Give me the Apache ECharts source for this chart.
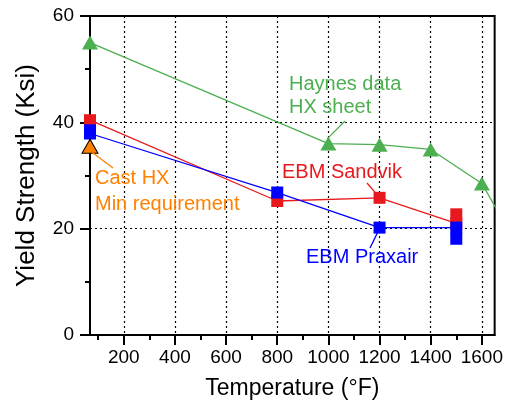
<!DOCTYPE html>
<html><head><meta charset="utf-8">
<script src="https://cdn.jsdelivr.net/npm/echarts@6/dist/echarts.min.js"></script>
<style>html,body{margin:0;padding:0;background:#fff}#c{width:506px;height:406px}</style>
</head><body><div id="c"></div>
<script>
// ---- data ----
const xMajorTicks = [200, 400, 600, 800, 1000, 1200, 1400, 1600];
const xMinorTicks = [100, 300, 500, 700, 900, 1100, 1300, 1500];
const haynesX = [68, 1000, 1200, 1400, 1600, 1700];
const haynesY = [55.0, 36.0, 35.8, 34.9, 28.5, 20.1];
const sandvikX = [68, 800, 1200, 1500, 1500];
const sandvikY = [40.4, 25.2, 25.8, 21.0, 22.7];
const praxairX = [68, 68, 800, 1200, 1500, 1500];
const praxairY = [38.5, 37.9, 26.8, 20.2, 20.2, 18.1];
const castX = [68];
const castY = [35.5];

const FONT = '"Liberation Sans", Arial, sans-serif';
const GREEN = '#4caf50', RED = '#e8191c', BLUE = '#0000ff', ORANGE = '#ff8000';
const pairs = (xs, ys) => xs.map((x, i) => [x, ys[i]]);

const chart = echarts.init(document.getElementById('c'), null, {renderer: 'canvas'});
const option = {
  animation: false,
  backgroundColor: '#fff',
  grid: {left: 90, right: 7, top: 16, bottom: 71, show: true, borderColor: '#000', borderWidth: 2, backgroundColor: 'transparent'},
  xAxis: [{
    type: 'value', min: 68, max: 1650,
    name: 'Temperature (°F)', nameLocation: 'middle', nameGap: 42,
    nameTextStyle: {fontFamily: FONT, fontSize: 23, color: '#000'},
    axisLine: {show: true, lineStyle: {color: '#000', width: 2}},
    axisTick: {show: true, customValues: xMajorTicks, length: 10, lineStyle: {color: '#000', width: 2}},
    axisLabel: {customValues: xMajorTicks, fontFamily: FONT, fontSize: 19, color: '#000', margin: 13,
      formatter: v => String(v)},
    splitLine: {show: true, lineStyle: {color: '#000', width: 1.2, type: [2, 3]}},
    minorTick: {show: false}
  }, {
    type: 'value', min: 68, max: 1650, position: 'bottom',
    axisLine: {show: false},
    axisTick: {show: true, customValues: xMinorTicks, length: 5, lineStyle: {color: '#000', width: 2}},
    axisLabel: {show: false},
    splitLine: {show: false}
  }],
  yAxis: {
    type: 'value', min: 0, max: 60, interval: 20,
    name: 'Yield Strength (Ksi)', nameLocation: 'middle', nameGap: 50,
    nameTextStyle: {fontFamily: FONT, fontSize: 26, color: '#000'},
    axisLine: {show: true, lineStyle: {color: '#000', width: 2}},
    axisTick: {show: true, length: 10, lineStyle: {color: '#000', width: 2}},
    minorTick: {show: true, splitNumber: 2, length: 5, lineStyle: {color: '#000', width: 2}},
    axisLabel: {fontFamily: FONT, fontSize: 19, color: '#000', margin: 16},
    splitLine: {show: true, lineStyle: {color: '#000', width: 1.2, type: [2, 3]}}
  },
  series: [
    {name: 'Haynes data HX sheet', type: 'line', data: pairs(haynesX, haynesY), symbol: 'triangle', symbolSize: [16, 14],
     lineStyle: {color: GREEN, width: 1.3}, itemStyle: {color: GREEN}, clip: true, z: 2},
    {name: 'EBM Sandvik', type: 'line', data: pairs(sandvikX, sandvikY), symbol: 'rect', symbolSize: 12,
     lineStyle: {color: RED, width: 1.3}, itemStyle: {color: RED}, z: 3},
    {name: 'EBM Praxair', type: 'line', data: pairs(praxairX, praxairY), symbol: 'rect', symbolSize: 12,
     lineStyle: {color: BLUE, width: 1.3}, itemStyle: {color: BLUE}, z: 4},
    {name: 'Cast HX Min requirement', type: 'line', data: pairs(castX, castY), symbol: 'triangle', symbolSize: [16, 14],
     itemStyle: {color: ORANGE, borderColor: '#000', borderWidth: 1}, z: 5}
  ]
};
chart.setOption(option);

// ---- annotations (text + leader line to a data point) ----
const annotations = [
  {lines: ['Haynes data', 'HX sheet'], color: GREEN, x: 289, y: 84, step: 23, from: [345, 121], to: [1000, 36.0], off: [-1, -5]},
  {lines: ['EBM Sandvik'], color: RED, x: 282, y: 172, step: 0, from: [367, 183], to: [1200, 25.8], off: [-4, -5]},
  {lines: ['EBM Praxair'], color: BLUE, x: 306, y: 257, step: 0, from: [370, 248], to: [1200, 20.2], off: [-2, 5]},
  {lines: ['Cast HX', 'Min requirement'], color: ORANGE, x: 95, y: 178, step: 26, from: [113, 168], to: [68, 35.5], off: [2, 6]}
];
const elements = [];
annotations.forEach(a => {
  a.lines.forEach((t, i) => {
    elements.push({type: 'text', x: a.x, y: a.y + i * a.step, z: 100,
      style: {text: t, fill: a.color, font: '20px ' + FONT, verticalAlign: 'middle', align: 'left'}});
  });
  const p = chart.convertToPixel({gridIndex: 0}, a.to);
  elements.push({type: 'line', z: 100, shape: {x1: a.from[0], y1: a.from[1], x2: p[0] + a.off[0], y2: p[1] + a.off[1]},
    style: {stroke: a.color, lineWidth: 1.3}});
});
chart.setOption({graphic: elements});
</script>
</body></html>
